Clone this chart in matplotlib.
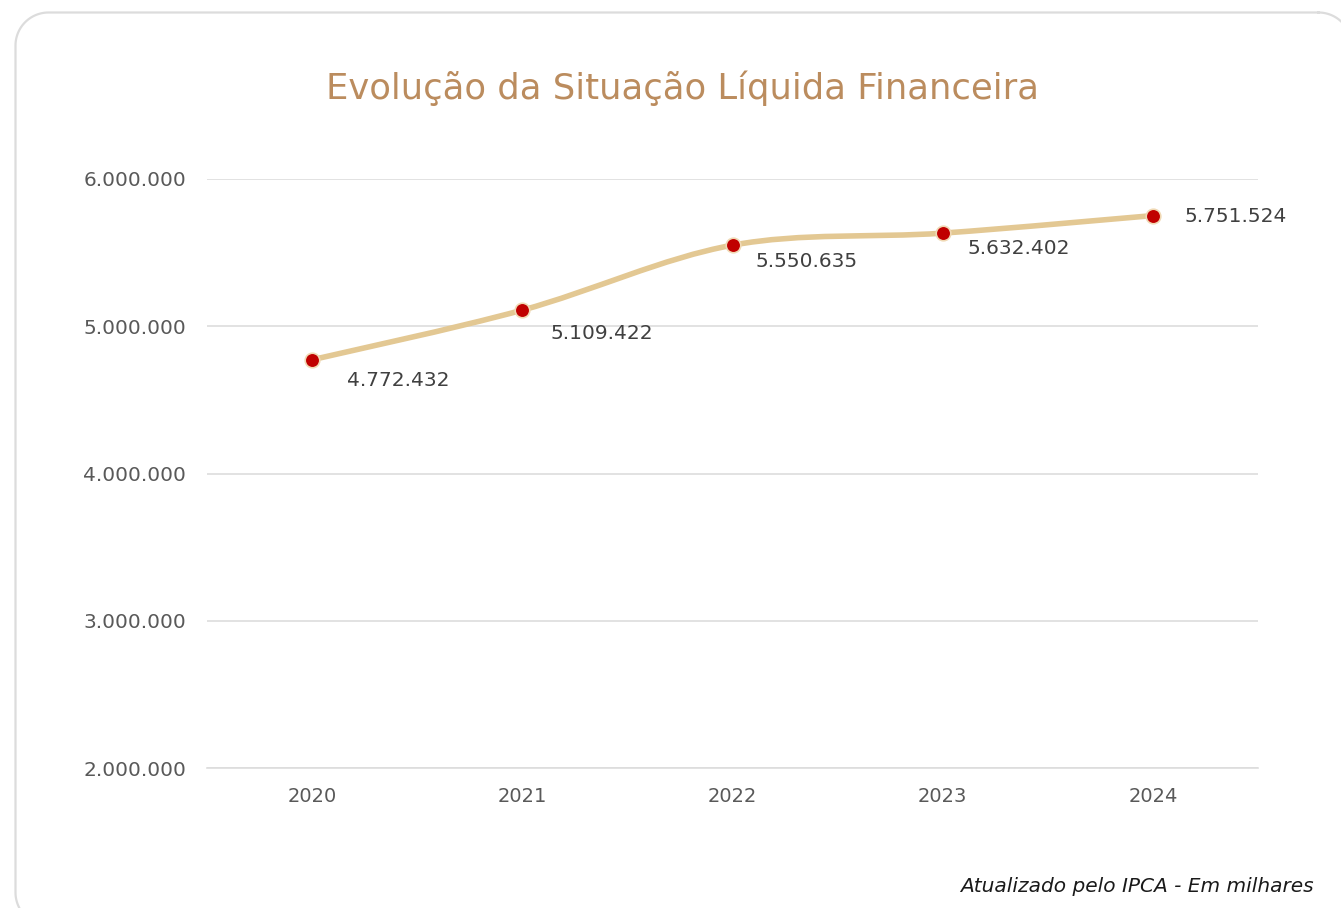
import matplotlib
matplotlib.use("Agg")
import matplotlib.pyplot as plt
import numpy as np
from matplotlib.path import Path
from matplotlib.patches import PathPatch

years = ["2020", "2021", "2022", "2023", "2024"]
values = [4772432, 5109422, 5550635, 5632402, 5751524]
yticks = [2000000, 3000000, 4000000, 5000000, 6000000]
title = "Evolução da Situação Líquida Financeira"
note = "Atualizado pelo IPCA - Em milhares"

def fmt(v):
    return f"{v:,}".replace(",", ".")

fig = plt.figure(figsize=(13.41, 9.08), dpi=100)
fig.patch.set_facecolor("white")

# background axes in pixel units for the rounded card border
bg = fig.add_axes([0, 0, 1, 1], zorder=-5)
bg.set_xlim(0, 1341)
bg.set_ylim(908, 0)
bg.axis("off")
L, T, R, B, r = 15.5, 12.5, 1351.5, 925.5, 33
pts_x, pts_y = [], []
for (cx, cy, a0) in [(R - r, T + r, -90), (R - r, B - r, 0), (L + r, B - r, 90), (L + r, T + r, 180)]:
    ang = np.radians(np.linspace(a0, a0 + 90, 30))
    pts_x += list(cx + r * np.cos(ang))
    pts_y += list(cy + r * np.sin(ang))
pts_x.append(pts_x[0]); pts_y.append(pts_y[0])
bg.plot(pts_x, pts_y, color="#DCDCDC", linewidth=1.6)

ax = fig.add_axes([207/1341, 1-768/908, 1051/1341, (768-179)/908])
ax.set_facecolor("none")
x = np.arange(len(years))
ax.set_xlim(-0.5, len(years)-0.5)
ax.set_ylim(yticks[0], yticks[-1])

# smooth curve (Excel-like Catmull-Rom bezier)
xs = x.astype(float); ys = np.array(values, dtype=float)
verts = [(xs[0], ys[0])]
codes = [Path.MOVETO]
n = len(xs)
for i in range(n-1):
    p0 = (xs[max(i-1, 0)], ys[max(i-1, 0)])
    p1 = (xs[i], ys[i]); p2 = (xs[i+1], ys[i+1])
    p3 = (xs[min(i+2, n-1)], ys[min(i+2, n-1)])
    c1 = (p1[0] + (p2[0]-p0[0])/6, p1[1] + (p2[1]-p0[1])/6)
    c2 = (p2[0] - (p3[0]-p1[0])/6, p2[1] - (p3[1]-p1[1])/6)
    verts += [c1, c2, p2]
    codes += [Path.CURVE4]*3
ax.add_patch(PathPatch(Path(verts, codes), facecolor="none",
                       edgecolor="#E3C893", linewidth=4, zorder=3,
                       capstyle="round"))
ax.plot(x, values, linestyle="none", marker="o", markersize=10.5,
        markerfacecolor="#C00000", markeredgecolor="#F0D9B5",
        markeredgewidth=1.2, zorder=4)

offsets = [(86, -21), (80, -23), (74, -16), (76, -15), (83, -1)]
for xi, v, off in zip(x, values, offsets):
    ax.annotate(fmt(v), (xi, v), xytext=off, textcoords="offset pixels",
                ha="center", va="center", fontsize=14.5, color="#404040",
                family="DejaVu Sans")

ax.set_yticks(yticks)
ax.set_yticklabels([fmt(t) for t in yticks], fontsize=14.5, color="#595959")
ax.set_xticks(x)
ax.set_xticklabels(years, fontsize=14, color="#595959")
ax.tick_params(axis="both", length=0)
ax.tick_params(axis="y", pad=15)
ax.tick_params(axis="x", pad=14)
ax.grid(axis="y", color="#DDDDDD", linewidth=1.2)
ax.set_axisbelow(True)
for s in ["top", "right", "left"]:
    ax.spines[s].set_visible(False)
ax.spines["bottom"].set_color("#DDDDDD")
ax.spines["bottom"].set_linewidth(1.2)

fig.text(682/1341, 1-88/908, title, ha="center", va="center",
         fontsize=25.5, color="#BB8C5E", family="DejaVu Sans")
fig.text(1314/1341, 1-886/908, note, ha="right", va="center",
         fontsize=14.5, style="italic", color="#1A1A1A", family="DejaVu Sans")

fig.savefig("out.png", dpi=100, facecolor="white")
